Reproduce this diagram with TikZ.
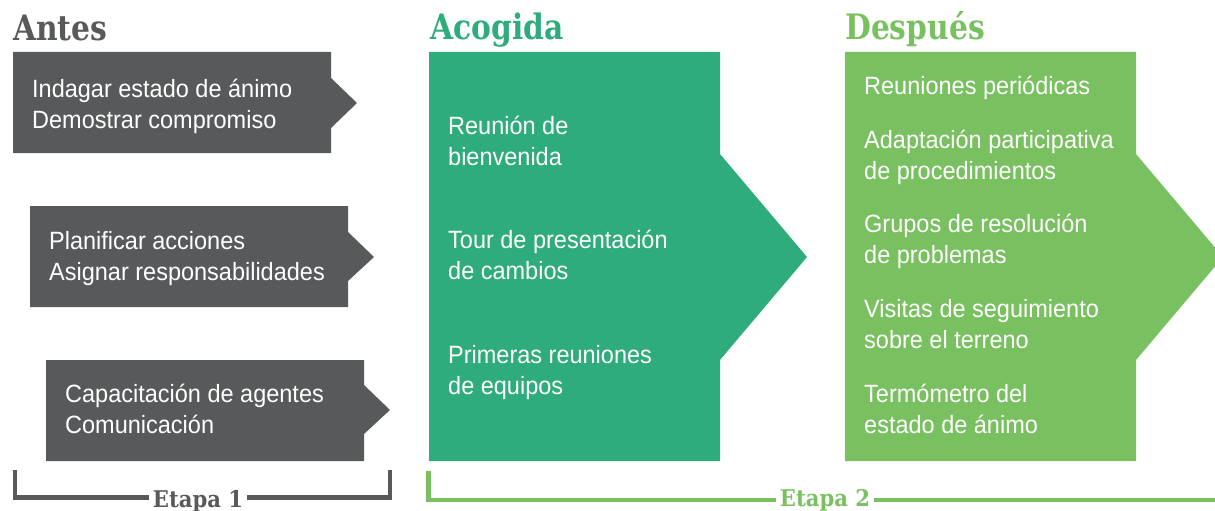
\documentclass[tikz,border=0pt]{standalone}
\usepackage{fontspec}
\setmainfont{Liberation Sans}[FakeStretch=0.94]
\newfontfamily\slab{DejaVu Serif}[FakeStretch=0.85]
\newfontfamily\slabwide{DejaVu Serif}[FakeStretch=0.92]
\definecolor{dgray}{RGB}{88,89,91}
\definecolor{dkgreen}{RGB}{47,172,123}
\definecolor{ltgreen}{RGB}{121,192,96}
\newcommand{\twolines}[2]{\begin{tabular}[t]{@{}l@{}}#1\\#2\end{tabular}}
\tikzset{
  item/.style={anchor=base west, inner sep=0pt, text=white, font=\fontsize{25}{31}\selectfont},
  heading/.style={anchor=base west, inner sep=0pt, font=\slab\bfseries\fontsize{35}{40}\selectfont},
  stage/.style={inner ysep=0pt, inner xsep=4pt, text depth=0pt, font=\slabwide\bfseries\fontsize{23}{26}\selectfont},
  bracket/.style={line width=4.5pt}
}
\begin{document}
\begin{tikzpicture}[x=1pt,y=-1pt]
\clip (0,0) rectangle (1215,511);
\fill[white] (0,0) rectangle (1215,511);
% headings
\node[heading, text=dgray] (hAntes) at (13,41) {Antes};
\node[heading, text=dkgreen] (hAcogida) at (430,40) {Acogida};
\node[heading, text=ltgreen] (hDespues) at (845,40) {Después};
% gray arrow boxes
\fill[dgray] (13,52) -- (331,52) -- (331,78) -- (357,103) -- (331,128) -- (331,153) -- (13,153) -- cycle;
\fill[dgray] (30,206) -- (348,206) -- (348,232) -- (374,257) -- (348,281) -- (348,307) -- (30,307) -- cycle;
\fill[dgray] (46,360) -- (364,360) -- (364,385) -- (390,410) -- (364,434) -- (364,461) -- (46,461) -- cycle;
% green arrow boxes
\fill[dkgreen] (429,52) -- (720,52) -- (720,154) -- (807,257) -- (720,360) -- (720,461) -- (429,461) -- cycle;
\fill[ltgreen] (845,52) -- (1136,52) -- (1136,154) -- (1223,257) -- (1136,360) -- (1136,461) -- (845,461) -- cycle;
% Antes texts
\node[item] (a1) at (32,97) {\twolines{Indagar estado de ánimo}{Demostrar compromiso}};
\node[item] (a2) at (49,249) {\twolines{Planificar acciones}{Asignar responsabilidades}};
\node[item] (a3) at (65,402) {\twolines{Capacitación de agentes}{Comunicación}};
% Acogida texts
\node[item] (b1) at (448,134) {\twolines{Reunión de}{bienvenida}};
\node[item] (b2) at (448,248) {\twolines{Tour de presentación}{de cambios}};
\node[item] (b3) at (448,363) {\twolines{Primeras reuniones}{de equipos}};
% Despues texts
\node[item] (c1) at (864,94) {Reuniones periódicas};
\node[item] (c2) at (864,148) {\twolines{Adaptación participativa}{de procedimientos}};
\node[item] (c3) at (864,232) {\twolines{Grupos de resolución}{de problemas}};
\node[item] (c4) at (864,317) {\twolines{Visitas de seguimiento}{sobre el terreno}};
\node[item] (c5) at (864,402) {\twolines{Termómetro del}{estado de ánimo}};
% Etapa 1 bracket
\node[stage, text=dgray, text height=19pt] (e1) at (198,497.5) {Etapa 1};
\coordinate (e1l) at (15,470);
\coordinate (e1r) at (390,470);
\draw[bracket, dgray] (e1l) |- (e1.west);
\draw[bracket, dgray] (e1.east) -| (e1r);
% Etapa 2 bracket
\node[stage, text=ltgreen, text height=12pt] (e2) at (825,500) {Etapa 2};
\coordinate (e2l) at (428.5,471);
\coordinate (e2r) at (1220,500);
\draw[bracket, ltgreen] (e2l) |- (e2.west);
\draw[bracket, ltgreen] (e2.east) -- (e2r);
\end{tikzpicture}
\end{document}
